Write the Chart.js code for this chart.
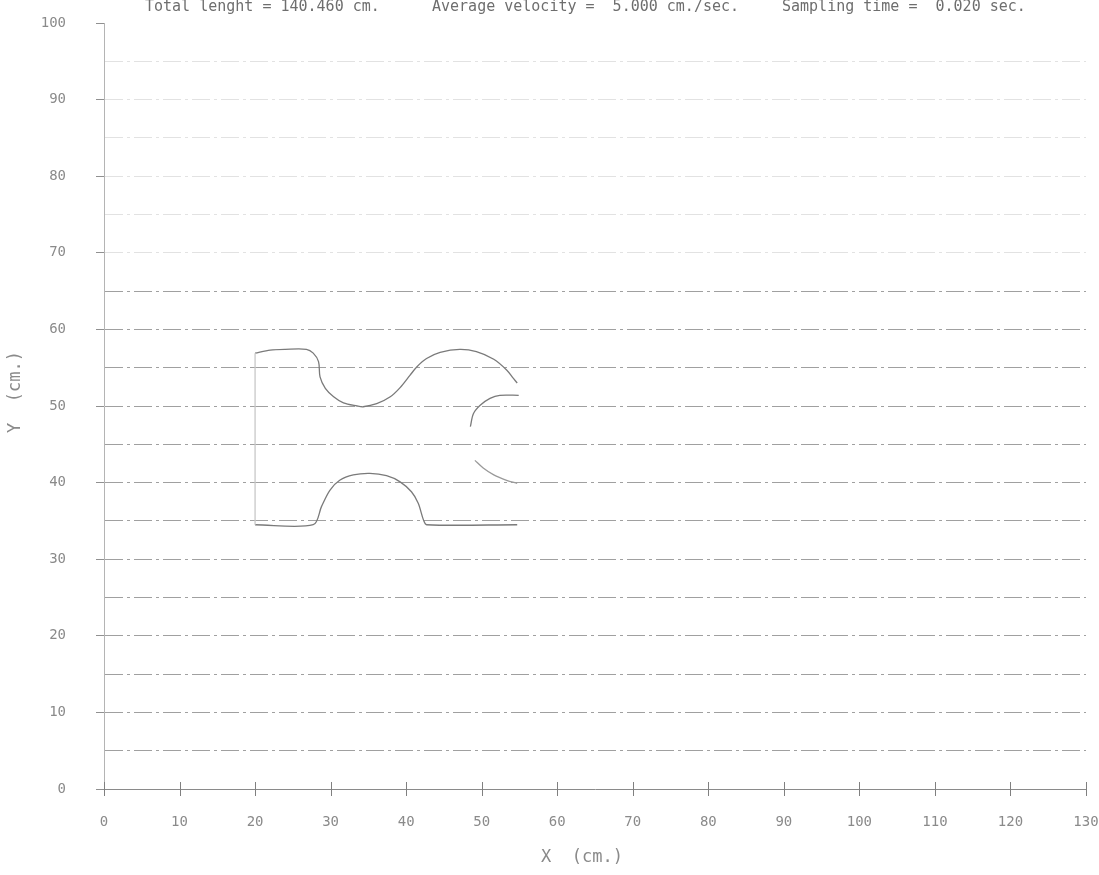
<!DOCTYPE html>
<html lang="en">
<head>
    <meta charset="UTF-8">
    <title>Path plot</title>
    <script src="https://cdn.jsdelivr.net/npm/chart.js"></script>
    <style>
        html, body { margin: 0; padding: 0; background: #fff; }
        .chart-box { width: 1099px; height: 875px; }
    </style>
</head>
<body>
    <div class="chart-box">
        <canvas id="pathChart"></canvas>
    </div>

    <script>
        // top wall of the channel
        const upperX = [20, 22, 24, 26.8, 27.7, 28.4, 28.6, 29.3, 30.4, 31.7, 33.5, 34.3, 36.1, 37.9, 39.2, 40.5, 41.4, 42.7, 44.5, 47.1, 49.3, 51.6, 53.3, 54.2, 54.7];
        const upperY = [56.9, 57.3, 57.4, 57.4, 56.9, 55.8, 53.8, 52.3, 51.2, 50.4, 50.0, 49.9, 50.3, 51.2, 52.4, 54.0, 55.1, 56.2, 57.0, 57.4, 57.1, 56.1, 54.7, 53.6, 53.0];

        // small arc on the right, upper part
        const midX = [48.5, 48.9, 49.8, 51.1, 52.4, 54.9];
        const midY = [47.3, 49.0, 50.1, 51.0, 51.4, 51.4];

        // small arc on the right, lower part
        const arcX = [49.1, 50.2, 51.6, 53.3, 54.7];
        const arcY = [42.9, 41.9, 41.0, 40.3, 39.9];

        // bottom wall of the channel
        const lowerX = [20, 27.7, 28.8, 29.9, 31.2, 33.0, 35.2, 37.4, 39.2, 40.7, 41.6, 42.3, 42.7, 54.7];
        const lowerY = [34.5, 34.5, 36.9, 39.0, 40.3, 41.0, 41.2, 40.9, 40.1, 38.8, 37.3, 35.1, 34.5, 34.5];

        // inlet edge
        const inletX = [20, 20];
        const inletY = [34.5, 56.9];

        const xTicks = [0, 10, 20, 30, 40, 50, 60, 70, 80, 90, 100, 110, 120, 130];
        const yTicks = [0, 10, 20, 30, 40, 50, 60, 70, 80, 90, 100];

        const headerText = [
            'Total lenght = 140.460 cm.',
            'Average velocity =  5.000 cm./sec.',
            'Sampling time =  0.020 sec.'
        ];

        const ink = '#7a7a7a';
        const label = '#8a8a8a';
        const mono = 'DejaVu Sans Mono';

        function toPoints(xs, ys) {
            return xs.map((x, i) => ({ x: x, y: ys[i] }));
        }

        function pathSet(xs, ys, color) {
            return {
                data: toPoints(xs, ys),
                showLine: true,
                borderColor: color,
                borderWidth: 1.3,
                pointRadius: 0,
                tension: 0.3
            };
        }

        // header line, axis titles and "+" tick marks on the X axis
        const plotterBits = {
            id: 'plotterBits',
            afterDraw(chart) {
                const ctx = chart.ctx;
                const xs = chart.scales.x;
                const ys = chart.scales.y;
                const y0 = ys.getPixelForValue(0);
                ctx.save();
                ctx.strokeStyle = '#808080';
                ctx.lineWidth = 1;
                xTicks.forEach(v => {
                    const px = Math.round(xs.getPixelForValue(v)) + 0.5;
                    ctx.beginPath();
                    ctx.moveTo(px, y0 - 7);
                    ctx.lineTo(px, y0 + 7);
                    ctx.stroke();
                });

                ctx.fillStyle = '#6e6e6e';
                ctx.font = '15px "' + mono + '"';
                ctx.textBaseline = 'alphabetic';
                ctx.fillText(headerText[0], 145, 11);
                ctx.fillText(headerText[1], 432, 11);
                ctx.fillText(headerText[2], 782, 11);

                ctx.fillStyle = label;
                ctx.font = '17px "' + mono + '"';
                ctx.textAlign = 'center';
                ctx.textBaseline = 'middle';
                ctx.fillText('X  (cm.)', 582, 858);
                ctx.translate(16, 392);
                ctx.rotate(-Math.PI / 2);
                ctx.fillText('Y  (cm.)', 0, 0);
                ctx.restore();
            }
        };

        const ctx = document.getElementById('pathChart').getContext('2d');
        const pathChart = new Chart(ctx, {
            type: 'scatter',
            data: {
                datasets: [
                    pathSet(inletX, inletY, '#c8c8c8'),
                    pathSet(upperX, upperY, ink),
                    pathSet(midX, midY, ink),
                    pathSet(arcX, arcY, '#9a9a9a'),
                    pathSet(lowerX, lowerY, ink)
                ]
            },
            options: {
                responsive: true,
                maintainAspectRatio: false,
                animation: false,
                layout: { padding: { top: 23, right: 13, left: 0, bottom: 0 } },
                plugins: {
                    legend: { display: false },
                    tooltip: { enabled: false }
                },
                scales: {
                    x: {
                        type: 'linear',
                        min: 0,
                        max: 130,
                        afterBuildTicks: s => { s.ticks = xTicks.map(v => ({ value: v })); },
                        afterFit: s => {
                            s.height = 86;
                            s.paddingLeft = 0;
                            s.paddingRight = 0;
                        },
                        grid: { display: false },
                        border: { display: true, color: '#8a8a8a', width: 1 },
                        ticks: {
                            color: label,
                            padding: 17,
                            maxRotation: 0,
                            font: { family: mono, size: 14 }
                        },
                        title: { display: false }
                    },
                    y: {
                        type: 'linear',
                        min: 0,
                        max: 100,
                        afterBuildTicks: s => {
                            const t = [];
                            for (let v = 0; v <= 100; v += 5) t.push({ value: v });
                            s.ticks = t;
                        },
                        afterFit: s => {
                            s.width = 104;
                            s.paddingTop = 0;
                            s.paddingBottom = 0;
                        },
                        grid: {
                            color: c => {
                                const v = c.tick.value;
                                if (v === 0 || v === 100) return 'rgba(0,0,0,0)';
                                return v <= 65 ? '#a0a0a0' : '#e2e2e2';
                            },
                            lineWidth: 1,
                            tickLength: 8,
                            tickColor: c => (c.tick.value % 10 === 0 ? '#909090' : 'rgba(0,0,0,0)')
                        },
                        border: { display: true, color: '#b4b4b4', width: 1, dash: [18, 4, 3, 4] },
                        ticks: {
                            color: label,
                            padding: 30,
                            font: { family: mono, size: 14 },
                            callback: v => (yTicks.includes(v) ? String(v) : '')
                        },
                        title: { display: false }
                    }
                }
            },
            plugins: [plotterBits]
        });
    </script>
</body>
</html>
